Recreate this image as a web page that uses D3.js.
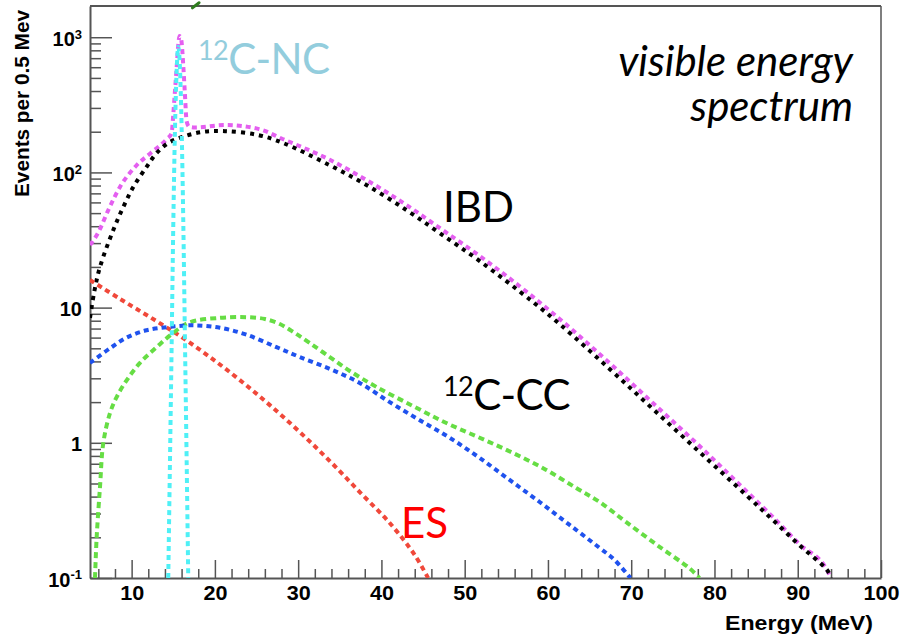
<!DOCTYPE html>
<html><head><meta charset="utf-8">
<script src="https://cdn.jsdelivr.net/npm/d3@7"></script>
<style>
html,body{margin:0;padding:0;background:#fff;}
svg{display:block;}
</style></head>
<body>
<svg id="chart" width="901" height="638"></svg>
<script>
// ---------- data ----------
const xTicks = [10, 20, 30, 40, 50, 60, 70, 80, 90, 100];
const yTicks = [0.1, 1, 10, 100, 1000];
const yTickLabels = [["10", "-1"], ["1", ""], ["10", ""], ["10", "2"], ["10", "3"]];

const ibdE = [5, 5.5, 6.2, 7.8, 9, 10.2, 11.8, 13, 14.4, 16, 18.4, 21.2, 25.2, 28.2, 33.8, 38.2, 43, 47, 51.8, 58.2, 61.4, 67.4, 72.6, 78.2, 83.8, 87, 90.2, 93.5, 94];
const ibdV = [8.4, 13, 20, 37.5, 55.5, 78, 110, 139, 165, 182, 199, 202, 189, 165, 113, 80.7, 52.7, 35.6, 22.1, 11.0, 7.56, 3.52, 1.78, 0.855, 0.411, 0.269, 0.175, 0.115, 0.1];

const totalE = [5, 6, 7.2, 8.6, 10.6, 12.4, 14.2, 14.8, 15.0, 15.2, 15.4, 15.6, 15.75, 15.9, 16.0, 16.2, 16.4, 16.6, 16.9, 17.6, 21.2, 25.2, 28.2, 33.8, 38.2, 43, 47, 51.8, 58.2, 61.4, 67.4, 72.6, 78.2, 83.8, 87, 90.2, 93.5, 94];
const totalV = [29, 36, 52.7, 78, 113, 141, 176, 195, 268, 397, 589, 875, 1020, 1000, 920, 620, 380, 240, 218, 215, 224, 210, 176, 124, 87.9, 57.4, 38.8, 24.1, 12.0, 8.24, 3.89, 1.97, 0.946, 0.44, 0.283, 0.178, 0.115, 0.1];

const ncE = [14.4, 14.6, 14.8, 15.0, 15.2, 15.4, 15.6, 15.8, 16.0, 16.2, 16.4, 16.6, 16.8];
const ncV = [0.1, 0.7, 5, 40, 200, 550, 850, 600, 220, 45, 6, 0.8, 0.1];

const esE = [5, 8.6, 12.2, 15.8, 19.4, 23.0, 26.6, 30.2, 33.8, 37.4, 41.0, 44.0, 45.6];
const esV = [16.0, 11.6, 8.51, 6.17, 4.31, 2.91, 1.90, 1.20, 0.733, 0.432, 0.255, 0.148, 0.1];

const ccBlueE = [5, 7.4, 9.4, 11.8, 14.6, 17.4, 20.6, 23.8, 27.4, 30.2, 33.8, 37.4, 41.0, 44.6, 48.2, 51.8, 55.4, 59.0, 62.6, 66.2, 68.0, 69.9];
const ccBlueV = [3.9, 5.0, 6.0, 6.8, 7.2, 7.4, 7.1, 6.3, 5.1, 4.31, 3.52, 2.77, 2.00, 1.47, 1.09, 0.773, 0.531, 0.365, 0.247, 0.167, 0.136, 0.1];

const ccGreenE = [5.6, 5.8, 6.2, 6.6, 7.4, 8.2, 9.4, 11, 13, 15, 17, 20.6, 23.8, 26.0, 27.8, 29.6, 31.4, 33.8, 36.2, 39.4, 43.8, 47.8, 51.8, 55.8, 59.8, 63.4, 66.2, 69.4, 73.4, 77.0, 78.2];
const ccGreenV = [0.1, 0.2, 0.47, 1.0, 1.66, 2.18, 2.9, 3.9, 5.1, 6.5, 7.8, 8.4, 8.5, 8.24, 7.56, 6.49, 5.47, 4.31, 3.40, 2.59, 1.87, 1.40, 1.09, 0.841, 0.630, 0.463, 0.365, 0.259, 0.170, 0.118, 0.1];

const strayE = [17.3, 18.1];
const strayV = [1650, 1800];

// ---------- layout ----------
const svg = d3.select("#chart");
const L = 90, R = 881, T = 6, B = 578;
const x = d3.scaleLinear().domain([5, 100]).range([L, R]);
const y = d3.scaleLog().domain([0.1, 1702]).range([B, T]);

const axisColor = "#555";

svg.append("defs").append("clipPath").attr("id", "plotclip")
  .append("rect").attr("x", L).attr("y", T).attr("width", R - L).attr("height", B - T);

// frame (top, right)
svg.append("line").attr("x1", L).attr("x2", R).attr("y1", T).attr("y2", T)
  .attr("stroke", axisColor).attr("stroke-width", 1.8);
svg.append("line").attr("x1", R).attr("x2", R).attr("y1", T).attr("y2", B)
  .attr("stroke", axisColor).attr("stroke-width", 1.5);

// ---------- axes ----------
const xMinor = d3.range(6, 100, 2).filter(v => v % 10 !== 0);
svg.append("g").attr("transform", `translate(0,${B})`)
  .call(d3.axisBottom(x).tickValues(xMinor).tickSize(-9).tickFormat(""))
  .call(g => g.select(".domain").remove())
  .call(g => g.selectAll("line").attr("stroke", axisColor).attr("stroke-width", 1.5));
const xAx = svg.append("g").attr("transform", `translate(0,${B})`)
  .call(d3.axisBottom(x).tickValues(xTicks).tickSize(-18).tickSizeOuter(0).tickPadding(8).tickFormat(d3.format("d")));
xAx.select(".domain").attr("stroke", axisColor).attr("stroke-width", 2);
xAx.selectAll("line").attr("stroke", axisColor).attr("stroke-width", 1.5);
xAx.selectAll("text").attr("fill", "#000").style("font-family", "'Liberation Sans', Arial, sans-serif")
  .style("font-weight", "bold").style("font-size", "20px").attr("transform", "scale(1.08,1)");

const yMinor = [];
[0.1, 1, 10, 100, 1000].forEach(d => { for (let k = 2; k <= 9; k++) { const v = d * k; if (v < 1702) yMinor.push(v); } });
svg.append("g").attr("transform", `translate(${L},0)`)
  .call(d3.axisLeft(y).tickValues(yMinor).tickSize(-11).tickFormat(""))
  .call(g => g.select(".domain").remove())
  .call(g => g.selectAll("line").attr("stroke", axisColor).attr("stroke-width", 1.5));
const yAx = svg.append("g").attr("transform", `translate(${L},0)`)
  .call(d3.axisLeft(y).tickValues(yTicks).tickSize(-22).tickSizeOuter(0).tickPadding(8).tickFormat(""));
yAx.select(".domain").attr("stroke", axisColor).attr("stroke-width", 2);
yAx.selectAll("line").attr("stroke", axisColor).attr("stroke-width", 1.5);
yAx.selectAll(".tick text").each(function (d) {
  const t = d3.select(this).attr("fill", "#000")
    .style("font-family", "'Liberation Sans', Arial, sans-serif").style("font-weight", "bold")
    .style("font-size", "20px").attr("x", -8).attr("dy", "0.40em");
  const lab = yTickLabels[yTicks.indexOf(d)];
  t.append("tspan").text(lab[0]);
  if (lab[1]) t.append("tspan").attr("dy", "-0.55em").style("font-size", "13px").text(lab[1]);
});

// axis titles
svg.append("text").attr("transform", "translate(29,10) rotate(-90)")
  .attr("text-anchor", "end").attr("textLength", 187).attr("lengthAdjust", "spacingAndGlyphs")
  .style("font-family", "'Liberation Sans', Arial, sans-serif").style("font-weight", "bold").style("font-size", "20px")
  .text("Events per 0.5 Mev");
svg.append("text").attr("x", 873).attr("y", 630).attr("text-anchor", "end")
  .attr("textLength", 148).attr("lengthAdjust", "spacingAndGlyphs")
  .style("font-family", "'Liberation Sans', Arial, sans-serif").style("font-weight", "bold").style("font-size", "20px")
  .text("Energy (MeV)");

// ---------- curves ----------
const smooth = d3.line().x(d => x(d[0])).y(d => y(d[1])).curve(d3.curveCatmullRom.alpha(0.5));
const mono = d3.line().x(d => x(d[0])).y(d => y(d[1])).curve(d3.curveMonotoneX);
const plot = svg.append("g").attr("clip-path", "url(#plotclip)");
const series = [
  { E: totalE, V: totalV, color: "#e45ff0", dash: "5,4", gen: mono },
  { E: ibdE, V: ibdV, color: "#000000", dash: "4,5", gen: smooth },
  { E: esE, V: esV, color: "#f0483a", dash: "5,4", gen: smooth },
  { E: ccGreenE, V: ccGreenV, color: "#66dd44", dash: "6,4", gen: smooth },
  { E: ccBlueE, V: ccBlueV, color: "#1f52ee", dash: "5,4", gen: smooth },
  { E: ncE, V: ncV, color: "#4ff0f6", dash: "5,4", gen: mono }
];
series.forEach(s => {
  plot.append("path").datum(s.E.map((e, i) => [e, s.V[i]]))
    .attr("d", s.gen).attr("fill", "none").attr("stroke", s.color)
    .attr("stroke-width", 4).attr("stroke-dasharray", s.dash);
});
// small stray green mark above the frame
svg.append("path").datum(strayE.map((e, i) => [e, strayV[i]]))
  .attr("d", d3.line().x(d => x(d[0])).y(d => y(d[1])))
  .attr("stroke", "#2f7d1e").attr("stroke-width", 3).attr("fill", "none").attr("stroke-linecap", "round");

// ---------- annotations ----------
const lab = (tx, ty, color, anchor) => svg.append("text").attr("x", tx).attr("y", ty)
  .attr("fill", color).attr("text-anchor", anchor || "start")
  .style("font-family", "Lato, 'Open Sans', sans-serif").style("font-size", "42px");

const nc = lab(198, 74, "#93cddd").style("letter-spacing", "-0.6px");
nc.append("tspan").style("font-size", "27px").attr("dy", "-14").text("12");
nc.append("tspan").attr("dy", "14").text("C-NC");

const vis = lab(853, 76, "#000", "end").style("font-style", "italic");
vis.append("tspan").attr("x", 853).text("visible energy");
vis.append("tspan").attr("x", 853).attr("dy", 45).text("spectrum");

lab(443, 222, "#000").text("IBD");

const cc = lab(443, 410, "#000").style("letter-spacing", "-0.6px");
cc.append("tspan").style("font-size", "27px").attr("dy", "-14").text("12");
cc.append("tspan").attr("dy", "14").text("C-CC");

lab(401, 538, "#ff0000").text("ES");
</script>
</body></html>
